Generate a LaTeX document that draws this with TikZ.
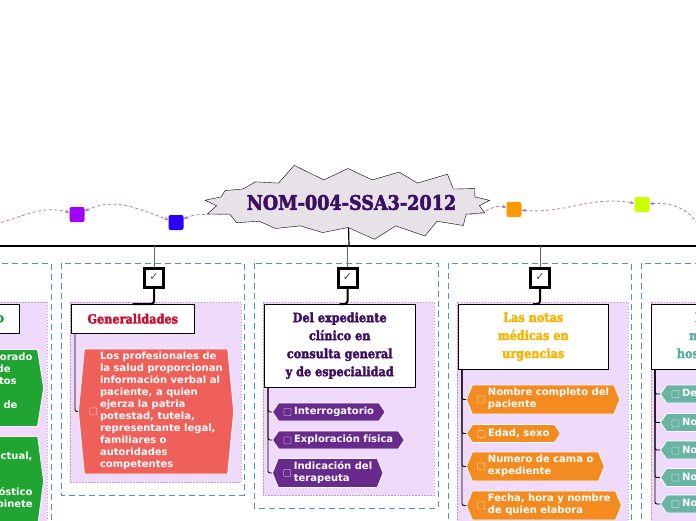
\documentclass[tikz,border=0pt]{standalone}
\usepackage{fontspec}
\usepackage{tikz}
\usetikzlibrary{arrows.meta,positioning,shapes.symbols,shadows}

\newfontfamily\slab{DejaVu Serif Bold}[FakeStretch=0.88, FakeBold=2.5]
\newfontfamily\dvs{DejaVu Sans}

\definecolor{inkpurple}{HTML}{3D0E61}
\definecolor{burstfill}{HTML}{E6E2E8}
\definecolor{linkcol}{HTML}{A07CC5}
\definecolor{sqpurple}{HTML}{A100FF}
\definecolor{sqblue}{HTML}{2B00FF}
\definecolor{sqorange}{HTML}{FF9900}
\definecolor{sqlime}{HTML}{CCFF00}
\definecolor{framecol}{HTML}{4A90E2}
\definecolor{panelfill}{HTML}{EFDAFB}
\definecolor{paneldraw}{HTML}{C09AD8}
\definecolor{leafred}{HTML}{F0605A}
\definecolor{leafpurple}{HTML}{682A8C}
\definecolor{leaforange}{HTML}{F48B20}
\definecolor{leafteal}{HTML}{6AB4A4}
\definecolor{leafgreen}{HTML}{20A532}
\definecolor{titred}{HTML}{C8102E}
\definecolor{titgold}{HTML}{F7B400}
\definecolor{titteal}{HTML}{5DAF9E}
\definecolor{titgreen}{HTML}{119C45}

% small box in front of each leaf text
\newcommand{\chkicon}{\tikz[baseline=-2.6pt]\draw[white, draw opacity=0.55, line width=0.6pt, rounded corners=0.8pt] (0pt,-3.5pt) rectangle (7pt,3.5pt);}

\begin{document}
\begin{tikzpicture}[
  x=1pt, y=1pt,
  burst/.style={starburst, starburst points=17, starburst point height=18pt, random starburst=5, draw, fill=burstfill, minimum width=300pt, minimum height=84pt, inner sep=0pt},
  headline/.style={font=\slab\fontsize{20}{24}\selectfont, text=inkpurple, inner sep=0pt},
  sqnode/.style={rounded corners=2pt, minimum size=15pt, inner sep=0pt},
  link/.style={draw=linkcol, dash pattern=on 3pt off 2.5pt, line width=0.8pt},
  colframe/.style={draw=framecol, dash pattern=on 6pt off 4pt, line width=1pt},
  panel/.style={fill=panelfill, draw=paneldraw, dash pattern=on 1.5pt off 1.5pt, line width=0.8pt},
  chk/.style={draw, line width=3pt, minimum size=19pt, inner sep=0pt, fill=white, font=\dvs\fontsize{11}{11}\selectfont, text=black!70},
  dropline/.style={draw=black!60, line width=1pt},
  stem/.style={draw=black, line width=2pt, rounded corners=3pt},
  twig/.style={draw=black, line width=0.9pt, rounded corners=2pt},
  headbox/.style={draw, fill=white, align=center, anchor=north west, inner xsep=6pt, inner ysep=0pt, font=\slab\fontsize{12.8}{18}\selectfont, drop shadow={shadow xshift=1.2pt, shadow yshift=-1.2pt, fill=black!50, opacity=0.6}},
  leaf/.style={signal, signal to=west and east, signal pointer angle=112, draw=white, line width=0.8pt, text=white, inner xsep=5pt, inner ysep=2.5pt, anchor=west, minimum height=18pt, font=\dvs\bfseries\fontsize{10}{12}\selectfont},
  leaf2/.style={leaf, minimum height=29pt, signal pointer angle=136},
  >={Stealth[length=4pt,width=3.5pt]}
]
\useasboundingbox (0,0) rectangle (696,-520);

% central topic and the chain of squares
\node[burst] (burst) at (348,-203.5) {};
\node[headline] (main) at (351.5,-202.5) {NOM-004-SSA3-2012};
\node[sqnode, fill=sqpurple] (sqP) at (77,-214.5) {};
\node[sqnode, fill=sqblue] (sqB) at (176,-222.5) {};
\node[sqnode, fill=sqorange] (sqO) at (514,-209.5) {};
\node[sqnode, fill=sqlime] (sqL) at (642,-204.5) {};
\coordinate (lin) at (-4,-224);
\coordinate (rout) at (700,-230);
\draw[link,->] (lin) to[out=15, in=165] (sqP);
\draw[link,<->] (sqP) to[out=25, in=160] (sqB);
\draw[link,<-] (sqB) to[out=25, in=185] (burst);
\draw[link,->] (burst) to[out=-5, in=165] (sqO);
\draw[link,<->] (sqO) to[out=-5, in=170] (sqL);
\draw[link,<-] (sqL) to[out=5, in=110] (rout);

% main bar
\coordinate (barL) at (0,-246);
\coordinate (barR) at (696,-246);
\coordinate (bm) at (349,-246);
\draw[line width=1.6pt] (barL) -- (barR);
\draw[line width=1.2pt] (burst) -- (bm);

% column frames
\draw[colframe] (-132,-263) rectangle (51,-540);
\draw[colframe] (61,-263) rectangle (244,-495);
\draw[colframe] (254,-263) rectangle (438,-508);
\draw[colframe] (448,-263) rectangle (631,-540);
\draw[colframe] (641,-263) rectangle (824,-540);
\draw[panel] (-123,-302) rectangle (47,-540);
\draw[panel] (70,-302) rectangle (241,-482);
\draw[panel] (263,-302) rectangle (434,-495);
\draw[panel] (457,-302) rectangle (628,-540);
\draw[panel] (651,-302) rectangle (822,-540);

% check boxes
\coordinate (k2) at (154,-246);
\coordinate (k3) at (347.5,-246);
\coordinate (k4) at (540,-246);
\node[chk] (chk2) at (154,-277.5) {✓};
\node[chk] (chk3) at (347.5,-277.5) {✓};
\node[chk] (chk4) at (540,-277.5) {✓};
\draw[dropline] (k2) -- (chk2);
\draw[dropline] (k3) -- (chk3);
\draw[dropline] (k4) -- (chk4);

% headings
\node[headbox, text=titgreen, minimum width=82pt, minimum height=29pt, anchor=north east] (t1) at (19,-304) {Objetivo};
\node[headbox, text=titred, minimum width=123pt, minimum height=29pt] (t2) at (71,-304) {Generalidades};
\node[headbox, text=inkpurple, minimum width=151pt, minimum height=83pt] (t3) at (264,-304) {Del expediente\\clínico en\\consulta general\\y de especialidad};
\node[headbox, text=titgold, minimum width=150pt, minimum height=65pt] (t4) at (458,-304) {Las notas\\médicas en\\urgencias};
\node[headbox, text=titteal, minimum width=147pt, minimum height=65pt] (t5) at (651,-304) {Las notas\\médicas en\\hospitalización};
\draw[stem] (chk2) |- (t2.north);
\draw[stem] (chk3) |- (t3.north);
\draw[stem] (chk4) |- (t4.north);

% leaves
\node[leaf, fill=leafgreen, signal pointer angle=162, minimum height=76pt, anchor=east] (e1) at (44,-388) {\chkicon\hspace{3pt}\begin{tabular}{@{}l@{}}Documento elaborado\\por el personal de\\salud con los datos\\del paciente\\en cada proceso de\\atención\end{tabular}};
\node[leaf, fill=leafgreen, signal pointer angle=165, minimum height=88pt, anchor=east] (e2) at (44,-481) {\chkicon\hspace{3pt}\begin{tabular}{@{}l@{}}Registro del\\padecimiento actual,\\evolución,\\tratamiento,\\pruebas, diagnóstico\\estudios de gabinete\\y laboratorio\end{tabular}};

\node[leaf, fill=leafred, signal pointer angle=169, minimum height=125pt] (a1) at (78,-411.5) {\chkicon\hspace{3pt}\begin{tabular}{@{}l@{}}Los profesionales de\\la salud proporcionan\\información verbal al\\paciente, a quien\\ejerza la patria\\potestad, tutela,\\representante legal,\\familiares o\\autoridades\\competentes\end{tabular}};

\node[leaf, fill=leafpurple] (b1) at (272,-412) {\chkicon\hspace{3pt}Interrogatorio};
\node[leaf, fill=leafpurple] (b2) at (272,-440) {\chkicon\hspace{3pt}Exploración física};
\node[leaf2, fill=leafpurple] (b3) at (272,-473) {\chkicon\hspace{3pt}\begin{tabular}{@{}l@{}}Indicación del\\terapeuta\end{tabular}};

\node[leaf2, fill=leaforange] (c1) at (466,-399.5) {\chkicon\hspace{3pt}\begin{tabular}{@{}l@{}}Nombre completo del\\paciente\end{tabular}};
\node[leaf, fill=leaforange] (c2) at (466,-433.5) {\chkicon\hspace{3pt}Edad, sexo};
\node[leaf2, fill=leaforange] (c3) at (466,-466.5) {\chkicon\hspace{3pt}\begin{tabular}{@{}l@{}}Numero de cama o\\expediente\end{tabular}};
\node[leaf2, fill=leaforange] (c4) at (466,-505.5) {\chkicon\hspace{3pt}\begin{tabular}{@{}l@{}}Fecha, hora y nombre\\de quien elabora\end{tabular}};

\node[leaf, fill=leafteal] (d1) at (660,-394) {\chkicon\hspace{3pt}De ingreso};
\node[leaf, fill=leafteal] (d2) at (660,-422.5) {\chkicon\hspace{3pt}Nota de evolución};
\node[leaf, fill=leafteal] (d3) at (660,-450) {\chkicon\hspace{3pt}Nota de referencia};
\node[leaf, fill=leafteal] (d4) at (660,-477.5) {\chkicon\hspace{3pt}Nota preoperatoria};
\node[leaf, fill=leafteal] (d5) at (660,-504) {\chkicon\hspace{3pt}Nota postoperatoria};

% branches from headings to leaves
\draw[twig] ([xshift=4pt]t1.south west) |- (e1.west);
\draw[twig] ([xshift=4pt]t1.south west) |- (e2.west);
\draw[twig] ([xshift=4pt]t2.south west) |- (a1.west);
\draw[twig] ([xshift=4pt]t3.south west) |- (b1.west);
\draw[twig] ([xshift=4pt]t3.south west) |- (b2.west);
\draw[twig] ([xshift=4pt]t3.south west) |- (b3.west);
\draw[twig] ([xshift=4pt]t4.south west) |- (c1.west);
\draw[twig] ([xshift=4pt]t4.south west) |- (c2.west);
\draw[twig] ([xshift=4pt]t4.south west) |- (c3.west);
\draw[twig] ([xshift=4pt]t4.south west) |- (c4.west);
\draw[twig] ([xshift=4pt]t5.south west) |- (d1.west);
\draw[twig] ([xshift=4pt]t5.south west) |- (d2.west);
\draw[twig] ([xshift=4pt]t5.south west) |- (d3.west);
\draw[twig] ([xshift=4pt]t5.south west) |- (d4.west);
\draw[twig] ([xshift=4pt]t5.south west) |- (d5.west);
\end{tikzpicture}
\end{document}
